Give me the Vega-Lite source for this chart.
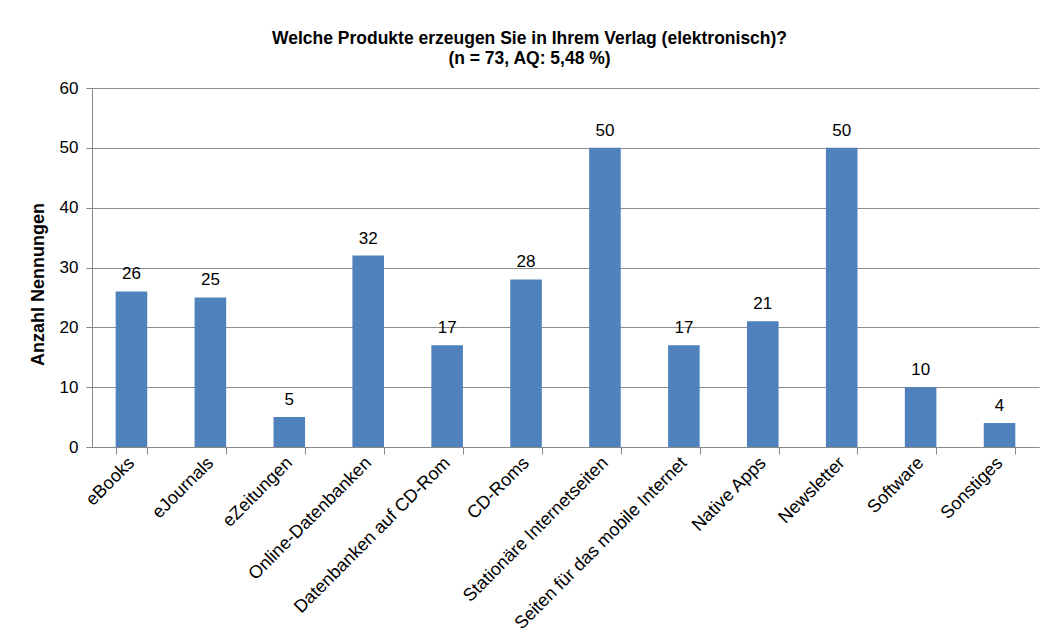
{
  "$schema": "https://vega.github.io/schema/vega-lite/v6.json",
  "autosize": {"type": "none"},
  "width": 947,
  "height": 359,
  "padding": {"left": 92, "top": 88, "right": 9, "bottom": 196},
  "background": "white",
  "title": {
    "text": ["Welche Produkte erzeugen Sie in Ihrem Verlag (elektronisch)?", "(n = 73, AQ: 5,48 %)"],
    "font": "Liberation Sans",
    "fontSize": 17.5,
    "fontWeight": "bold",
    "lineHeight": 20,
    "color": "#000000",
    "anchor": "middle",
    "dx": -36,
    "offset": 12
  },
  "config": {
    "view": {"stroke": null},
    "font": "Liberation Sans"
  },
  "data": {
    "values": [
      {"kategorie": "eBooks", "anzahl": 26},
      {"kategorie": "eJournals", "anzahl": 25},
      {"kategorie": "eZeitungen", "anzahl": 5},
      {"kategorie": "Online-Datenbanken", "anzahl": 32},
      {"kategorie": "Datenbanken auf CD-Rom", "anzahl": 17},
      {"kategorie": "CD-Roms", "anzahl": 28},
      {"kategorie": "Stationäre Internetseiten", "anzahl": 50},
      {"kategorie": "Seiten für das mobile Internet", "anzahl": 17},
      {"kategorie": "Native Apps", "anzahl": 21},
      {"kategorie": "Newsletter", "anzahl": 50},
      {"kategorie": "Software", "anzahl": 10},
      {"kategorie": "Sonstiges", "anzahl": 4}
    ]
  },
  "encoding": {
    "x": {
      "field": "kategorie",
      "type": "nominal",
      "sort": null,
      "scale": {"paddingInner": 0.6, "paddingOuter": 0.3},
      "axis": {
        "title": null,
        "labelAngle": -45,
        "labelAlign": "right",
        "labelBaseline": "middle",
        "labelFont": "Liberation Sans",
        "labelFontSize": 18,
        "labelColor": "#000000",
        "labelPadding": 6,
        "labelLimit": 400,
        "tickBand": "extent",
        "tickSize": 7,
        "tickColor": "#888888",
        "domainColor": "#888888"
      }
    },
    "y": {
      "field": "anzahl",
      "type": "quantitative",
      "scale": {"domain": [0, 60]},
      "axis": {
        "title": "Anzahl Nennungen",
        "titleFont": "Liberation Sans",
        "titleFontSize": 18,
        "titleFontWeight": "bold",
        "titleColor": "#000000",
        "titleX": -54,
        "titleY": 196,
        "titleAngle": -90,
        "titleAlign": "center",
        "titleBaseline": "middle",
        "values": [0, 10, 20, 30, 40, 50, 60],
        "labelFont": "Liberation Sans",
        "labelFontSize": 17,
        "labelColor": "#000000",
        "labelPadding": 8,
        "tickSize": 6,
        "tickColor": "#888888",
        "domainColor": "#888888",
        "grid": true,
        "gridColor": "#8c8c8c",
        "gridWidth": 1
      }
    }
  },
  "layer": [
    {"mark": {"type": "bar", "color": "#4F81BD"}},
    {
      "mark": {"type": "text", "dy": -17, "font": "Liberation Sans", "fontSize": 17, "color": "#000000"},
      "encoding": {"text": {"field": "anzahl", "type": "quantitative"}}
    }
  ]
}
